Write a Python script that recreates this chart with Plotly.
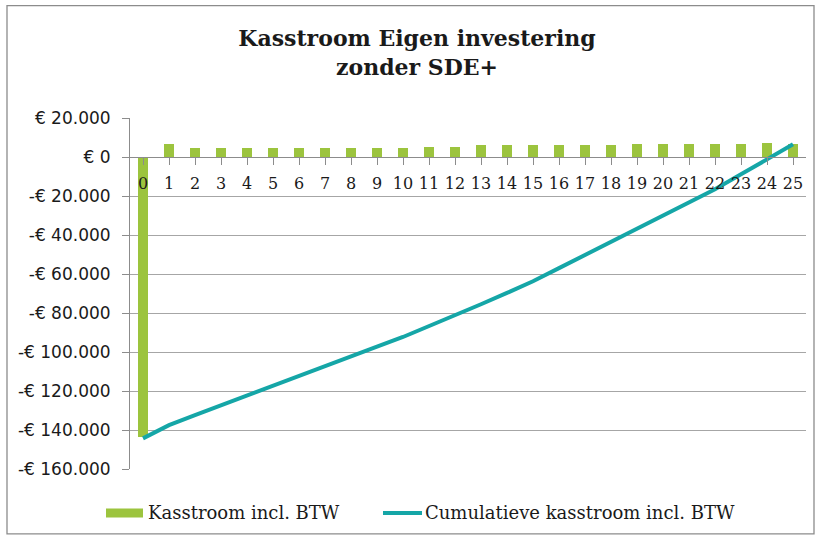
import plotly.graph_objects as go

# ---- data ----
years = list(range(0, 26))
kasstroom = [-143500, 6500, 4600, 4600, 4600, 4600, 4600, 4600, 4600, 4600, 4600,
             5100, 5100, 6000, 6000, 6000, 6000, 6000, 6000, 6500, 6500, 6500, 6500,
             6500, 7000, 6800]
cumulatief = [-144300, -137500, -132400, -127300, -122200, -117100, -112100, -107100,
              -102100, -97200, -92300, -86800, -81300, -75500, -69700, -63700, -57000,
              -50300, -43600, -37000, -30300, -23600, -16500, -8900, -1200, 6500]
y_tickvals = [20000, 0, -20000, -40000, -60000, -80000, -100000, -120000, -140000, -160000]
y_ticktext = ["€ 20.000", "€ 0", "-€ 20.000", "-€ 40.000", "-€ 60.000", "-€ 80.000",
              "-€ 100.000", "-€ 120.000", "-€ 140.000", "-€ 160.000"]
title_text = "Kasstroom Eigen investering<br>zonder SDE+"
legend_names = ["Kasstroom incl. BTW", "Cumulatieve kasstroom incl. BTW"]

GREEN = "#9cc43e"
TEAL = "#15a6a7"
GRID = "#a6a6a6"
AXIS = "#8c8c8c"

W, H = 821, 539
ML, MR, MT, MB = 130, 15, 117.5, 70
PW = W - ML - MR
PH = H - MT - MB


def px2x(px):
    return (px - ML) / PW


def py2y(py):
    return 1 - (py - MT) / PH


fig = go.Figure()
fig.add_trace(go.Bar(x=years, y=kasstroom, name=legend_names[0],
                     marker=dict(color=GREEN, line=dict(width=0)), width=0.38))
fig.add_trace(go.Scatter(x=years, y=cumulatief, name=legend_names[1], mode="lines",
                         line=dict(color=TEAL, width=4)))

ymin, ymax = -160000, 20000
zero_pos = (0 - ymin) / (ymax - ymin)

fig.update_layout(
    width=W, height=H,
    margin=dict(l=ML, r=MR, t=MT, b=MB),
    paper_bgcolor="white", plot_bgcolor="white",
    showlegend=False,
    title=dict(text=title_text, x=417 / W, xref="container", xanchor="center",
               y=1 - 46 / H, yref="container", yanchor="top",
               font=dict(family="DejaVu Serif", size=22, color="#1a1a1a", weight="bold")),
    xaxis=dict(type="linear", range=[-0.5, 25.5], anchor="free", position=zero_pos,
               tickmode="array", tickvals=years, ticktext=[str(v) for v in years],
               showgrid=False, zeroline=False,
               showline=True, linecolor=AXIS, linewidth=1,
               ticks="outside", ticklen=7, tickcolor=AXIS,
               ticklabelstandoff=5,
               tickfont=dict(family="DejaVu Serif", size=16, color="#1a1a1a")),
    yaxis=dict(range=[ymin, ymax], tickmode="array", tickvals=y_tickvals, ticktext=y_ticktext,
               showgrid=True, gridcolor=GRID, gridwidth=1, zeroline=False,
               showline=True, linecolor=AXIS, linewidth=1,
               ticks="outside", ticklen=7, tickcolor=AXIS,
               ticklabelstandoff=8,
               tickfont=dict(family="DejaVu Sans", size=17, color="#1a1a1a")),
    bargap=0,
)

# chart border
fig.add_shape(type="rect", xref="paper", yref="paper",
              x0=px2x(7), x1=px2x(814), y0=py2y(534), y1=py2y(5),
              line=dict(color=AXIS, width=1.3), layer="below")

# custom legend
leg_y = 513
fig.add_shape(type="rect", xref="paper", yref="paper",
              x0=px2x(106), x1=px2x(143), y0=py2y(leg_y + 4.5), y1=py2y(leg_y - 4.5),
              line=dict(width=0), fillcolor=GREEN)
fig.add_shape(type="line", xref="paper", yref="paper",
              x0=px2x(383), x1=px2x(422), y0=py2y(leg_y), y1=py2y(leg_y),
              line=dict(color=TEAL, width=4))
for name, xs in zip(legend_names, [146, 423]):
    fig.add_annotation(text=name, xref="paper", yref="paper", x=px2x(xs), y=py2y(leg_y),
                       xanchor="left", yanchor="middle", showarrow=False,
                       font=dict(family="DejaVu Serif", size=18, color="#1a1a1a"))

fig.write_html("out.html", config={"displayModeBar": False},
               post_script="document.body.style.margin='0px';")
